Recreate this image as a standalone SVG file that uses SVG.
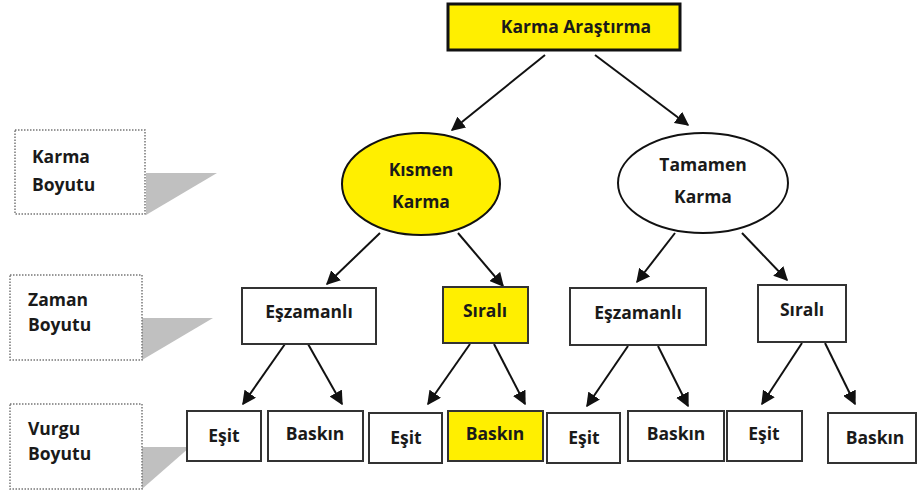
<svg xmlns="http://www.w3.org/2000/svg" width="917" height="492" viewBox="0 0 917 492">
<style>
text{font-family:"Open Sans","Noto Sans","Liberation Sans",sans-serif;font-weight:bold;font-size:17.5px;fill:#1a1a1a;text-anchor:middle}
.lbl text{text-anchor:start}
.box{fill:#fff;stroke:#333;stroke-width:2}
.yel{fill:#ffef00}
.dot{fill:#fff;stroke:#777;stroke-width:1.5;stroke-dasharray:1.5 1.5}
.tri{fill:#c0c0c0}
.conn line{stroke:#111;stroke-width:2;marker-end:url(#ah)}
</style>
<defs>
<marker id="ah" viewBox="0 0 10 10" refX="9" refY="5" markerWidth="7" markerHeight="7" orient="auto" markerUnits="strokeWidth">
<path d="M0,0 L10,5 L0,10 z" fill="#111"/>
</marker>
</defs>
<rect width="917" height="492" fill="#fff"/>

<g id="lbl-karma" class="lbl">
<polygon class="tri" points="146,173 217,173 146,215"/>
<rect class="dot" x="15" y="130" width="130" height="84"/>
<text x="32" y="163">Karma</text>
<text x="32" y="191">Boyutu</text>
</g>
<g id="lbl-zaman" class="lbl">
<polygon class="tri" points="142,318 213,318 142,360"/>
<rect class="dot" x="10" y="275" width="132" height="85"/>
<text x="28" y="306">Zaman</text>
<text x="28" y="331">Boyutu</text>
</g>
<g id="lbl-vurgu" class="lbl">
<polygon class="tri" points="142,447 190,447 142,489"/>
<rect class="dot" x="10" y="404" width="132" height="85"/>
<text x="28" y="435">Vurgu</text>
<text x="28" y="460">Boyutu</text>
</g>

<g class="conn">
<line x1="545" y1="55" x2="452" y2="130"/>
<line x1="595" y1="55" x2="688" y2="125"/>
<line x1="380" y1="233" x2="327" y2="284"/>
<line x1="458" y1="233" x2="503" y2="286"/>
<line x1="675" y1="233" x2="637" y2="282"/>
<line x1="742" y1="233" x2="787" y2="280"/>
<line x1="285" y1="344" x2="243" y2="404"/>
<line x1="308" y1="344" x2="342" y2="404"/>
<line x1="470" y1="344" x2="428" y2="404"/>
<line x1="494" y1="344" x2="525" y2="404"/>
<line x1="628" y1="346" x2="587" y2="406"/>
<line x1="658" y1="346" x2="688" y2="406"/>
<line x1="802" y1="343" x2="762" y2="404"/>
<line x1="825" y1="343" x2="855" y2="404"/>
</g>

<g id="karma-arastirma">
<rect x="448" y="4" width="232" height="46" fill="#ffef00" stroke="#111" stroke-width="3"/>
<text x="576" y="33">Karma Araştırma</text>
</g>
<g id="kismen-karma">
<ellipse cx="421" cy="184" rx="79" ry="51" fill="#ffef00" stroke="#111" stroke-width="2"/>
<text x="421" y="176">Kısmen</text>
<text x="421" y="208">Karma</text>
</g>
<g id="tamamen-karma">
<ellipse cx="703" cy="183" rx="85" ry="50" fill="#fff" stroke="#111" stroke-width="2"/>
<text x="703" y="171">Tamamen</text>
<text x="703" y="203">Karma</text>
</g>

<g id="eszamanli-1"><rect class="box" x="242" y="288" width="134" height="56"/><text x="309" y="318">Eşzamanlı</text></g>
<g id="sirali-1"><rect class="box yel" x="443" y="287" width="85" height="56"/><text x="485" y="317">Sıralı</text></g>
<g id="eszamanli-2"><rect class="box" x="570" y="288" width="136" height="57"/><text x="638" y="319">Eşzamanlı</text></g>
<g id="sirali-2"><rect class="box" x="758" y="285" width="88" height="57"/><text x="802" y="316">Sıralı</text></g>

<g id="esit-1"><rect class="box" x="187" y="411" width="74" height="50"/><text x="224" y="442">Eşit</text></g>
<g id="baskin-1"><rect class="box" x="268" y="411" width="95" height="50"/><text x="315" y="440">Baskın</text></g>
<g id="esit-2"><rect class="box" x="369" y="413" width="73" height="50"/><text x="406" y="444">Eşit</text></g>
<g id="baskin-2"><rect class="box yel" x="448" y="411" width="95" height="50"/><text x="495" y="440">Baskın</text></g>
<g id="esit-3"><rect class="box" x="547" y="413" width="73" height="50"/><text x="584" y="444">Eşit</text></g>
<g id="baskin-3"><rect class="box" x="628" y="411" width="96" height="50"/><text x="676" y="440">Baskın</text></g>
<g id="esit-4"><rect class="box" x="727" y="411" width="75" height="50"/><text x="764" y="440">Eşit</text></g>
<g id="baskin-4"><rect class="box" x="828" y="413" width="88" height="50"/><text x="875" y="444">Baskın</text></g>
</svg>
